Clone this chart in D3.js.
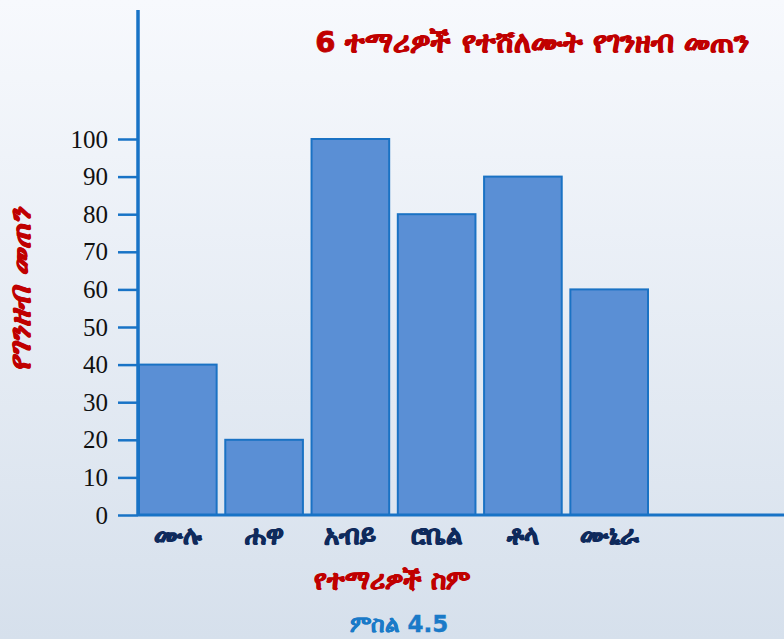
<!DOCTYPE html>
<html>
<head>
<meta charset="utf-8">
<script src="https://cdn.jsdelivr.net/npm/d3@7"></script>
<style>
  html, body { margin: 0; padding: 0; }
  body { width: 784px; height: 639px; overflow: hidden; }
</style>
</head>
<body>
<div id="chart"></div>
<script>
// data
const names = ['ሙሉ', 'ሐዋ', 'አብይ', 'ሮቤል', 'ቶላ', 'ሙኒራ'];
const amounts = [40, 20, 100, 80, 90, 60];
const yTicks = [0, 10, 20, 30, 40, 50, 60, 70, 80, 90, 100];

const titleText = '6 ተማሪዎች የተሸለሙት የገንዘብ መጠን';
const xTitle = 'የተማሪዎች ስም';
const yTitle = 'የገንዘብ መጠን';
const caption = 'ምስል 4.5';

const width = 784;
const height = 639;
const axisColor = '#1873c6';

const svg = d3.select('#chart')
    .append('svg')
    .attr('width', width)
    .attr('height', height);

// background gradient
const grad = svg.append('defs').append('linearGradient')
    .attr('id', 'bg')
    .attr('x1', 0).attr('y1', 0).attr('x2', 0).attr('y2', 1);
grad.append('stop').attr('offset', '0%').attr('stop-color', '#f7f9fd');
grad.append('stop').attr('offset', '100%').attr('stop-color', '#d6e0ec');

svg.append('rect')
    .attr('width', width)
    .attr('height', height)
    .attr('fill', 'url(#bg)');

const plotLeft = 138;
const baseY = 515;

const x = d3.scaleBand()
    .domain(names)
    .range([plotLeft + 1, plotLeft + 510])
    .paddingInner(0.1)
    .paddingOuter(0);

const y = d3.scaleLinear()
    .domain([0, 100])
    .range([baseY, 139]);

// bars
svg.append('g')
    .selectAll('rect')
    .data(amounts)
    .enter()
    .append('rect')
    .attr('x', (d, i) => x(names[i]))
    .attr('y', d => y(d))
    .attr('width', x.bandwidth())
    .attr('height', d => baseY - y(d))
    .attr('fill', '#5a8fd5')
    .attr('stroke', '#1a72c4')
    .attr('stroke-width', 2);

// y axis
const yAxis = d3.axisLeft(y)
    .tickValues(yTicks)
    .tickSize(20)
    .tickPadding(10);

const gy = svg.append('g')
    .attr('transform', `translate(${plotLeft},0)`)
    .call(yAxis);
gy.select('.domain').remove();
gy.selectAll('.tick line')
    .attr('stroke', axisColor)
    .attr('stroke-width', 2.5);
gy.selectAll('.tick text')
    .attr('font-family', '"Liberation Serif", "Times New Roman", serif')
    .attr('font-size', 25)
    .attr('fill', '#111');

// vertical axis line
svg.append('line')
    .attr('x1', plotLeft).attr('x2', plotLeft)
    .attr('y1', 10).attr('y2', baseY + 1)
    .attr('stroke', axisColor)
    .attr('stroke-width', 3.5);

// horizontal axis line to the right edge
svg.append('line')
    .attr('x1', plotLeft).attr('x2', width)
    .attr('y1', baseY).attr('y2', baseY)
    .attr('stroke', axisColor)
    .attr('stroke-width', 3);

// x axis labels
const xAxis = d3.axisBottom(x).tickSize(0).tickPadding(9);
const gx = svg.append('g')
    .attr('transform', `translate(0,${baseY + 2})`)
    .call(xAxis);
gx.select('.domain').remove();
gx.selectAll('.tick text')
    .attr('font-family', '"DejaVu Sans", "Noto Sans", sans-serif')
    .attr('font-weight', 'bold')
    .attr('font-size', 26)
    .attr('fill', '#0f2a5c')
    .attr('stroke', '#0f2a5c')
    .attr('stroke-width', 0.9);

// title
svg.append('text')
    .attr('x', 532)
    .attr('y', 52)
    .attr('text-anchor', 'middle')
    .attr('font-family', '"DejaVu Sans", sans-serif')
    .attr('font-weight', 'bold')
    .attr('font-size', 29)
    .attr('fill', '#c00000')
    .attr('stroke', '#c00000')
    .attr('stroke-width', 0.9)
    .text(titleText);

// y axis title
svg.append('text')
    .attr('transform', 'translate(30,290) rotate(-90)')
    .attr('text-anchor', 'middle')
    .attr('font-family', '"DejaVu Sans", sans-serif')
    .attr('font-weight', 'bold')
    .attr('font-style', 'italic')
    .attr('font-size', 30)
    .attr('fill', '#c00000')
    .attr('stroke', '#c00000')
    .attr('stroke-width', 0.9)
    .text(yTitle);

// x axis title
svg.append('text')
    .attr('x', 392)
    .attr('y', 589)
    .attr('text-anchor', 'middle')
    .attr('font-family', '"DejaVu Sans", sans-serif')
    .attr('font-weight', 'bold')
    .attr('font-size', 26)
    .attr('fill', '#c00000')
    .attr('stroke', '#c00000')
    .attr('stroke-width', 0.9)
    .text(xTitle);

// caption
svg.append('text')
    .attr('x', 399)
    .attr('y', 632)
    .attr('text-anchor', 'middle')
    .attr('font-family', '"DejaVu Sans", sans-serif')
    .attr('font-weight', 'bold')
    .attr('font-size', 23)
    .attr('fill', '#1a7ac8')
    .attr('stroke', '#1a7ac8')
    .attr('stroke-width', 0.4)
    .text(caption);
</script>
</body>
</html>
